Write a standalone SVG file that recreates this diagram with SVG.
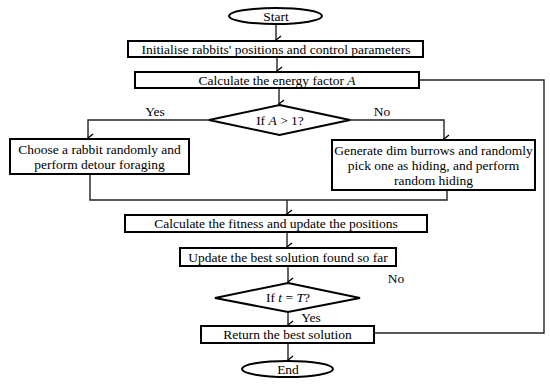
<svg xmlns="http://www.w3.org/2000/svg" width="550" height="384" viewBox="0 0 550 384">
<defs>
<style>
.n{fill:#fff;stroke:#000;stroke-width:2}
.c{fill:none;stroke:#222;stroke-width:1.4}
text{font-family:"Liberation Serif","Times New Roman",serif;font-size:13.5px;fill:#000;text-anchor:middle}
.i{font-style:italic}
</style>
<marker id="ah" viewBox="0 0 10 10" refX="5" refY="9" markerWidth="10" markerHeight="10" markerUnits="userSpaceOnUse" orient="auto-start-reverse">
<path d="M1,4 L5,9 L9,4" fill="none" stroke="#000" stroke-width="1.4"/>
</marker>
</defs>
<rect width="550" height="384" fill="#fff"/>
<g id="connectors">
<line class="c" x1="276" y1="24" x2="276" y2="40" marker-end="url(#ah)"/>
<line class="c" x1="277" y1="57" x2="277" y2="71" marker-end="url(#ah)"/>
<line class="c" x1="279" y1="88" x2="279" y2="104" marker-end="url(#ah)"/>
<polyline class="c" points="209,120 88,120 88,138" marker-end="url(#ah)"/>
<polyline class="c" points="350,120 444,120 444,139" marker-end="url(#ah)"/>
<polyline class="c" points="90,174 90,200 447,200 447,190"/>
<line class="c" x1="287" y1="200" x2="287" y2="214" marker-end="url(#ah)"/>
<line class="c" x1="287" y1="232" x2="287" y2="247" marker-end="url(#ah)"/>
<line class="c" x1="288" y1="266" x2="288" y2="282" marker-end="url(#ah)"/>
<line class="c" x1="288" y1="312" x2="288" y2="325" marker-end="url(#ah)"/>
<line class="c" x1="288" y1="343" x2="288" y2="360" marker-end="url(#ah)"/>
<polyline class="c" points="374,333 544,333 544,80 419,80"/>
<text x="155" y="116">Yes</text>
<text x="382" y="116">No</text>
<text x="396" y="283">No</text>
<text x="311" y="322">Yes</text>
</g>
<g id="start"><ellipse class="n" cx="275.5" cy="16" rx="46.5" ry="8"/><text x="276" y="20.5">Start</text></g>
<g id="init"><rect class="n" x="128" y="41" width="295" height="16"/><text x="276" y="53.5">Initialise rabbits' positions and control parameters</text></g>
<g id="energy"><rect class="n" x="135" y="72" width="284" height="16"/><text x="277" y="84.5">Calculate the energy factor <tspan class="i">A</tspan></text></g>
<g id="cond1"><polygon class="n" points="279.5,105 350,120 279.5,135 209,120"/><text x="280" y="124.5">If <tspan class="i">A</tspan> &gt; 1?</text></g>
<g id="detour"><rect class="n" x="10" y="139" width="179" height="35"/><text x="99.5" y="153.5">Choose a rabbit randomly and</text><text x="99.5" y="168.5">perform detour foraging</text></g>
<g id="hiding"><rect class="n" x="332" y="140" width="203" height="50"/><text x="433.5" y="154.5">Generate dim burrows and randomly</text><text x="433.5" y="169.5">pick one as hiding, and perform</text><text x="433.5" y="184.5">random hiding</text></g>
<g id="fitness"><rect class="n" x="125" y="215" width="302" height="17"/><text x="276" y="228">Calculate the fitness and update the positions</text></g>
<g id="update"><rect class="n" x="180" y="248" width="216" height="18"/><text x="288" y="261.5">Update the best solution found so far</text></g>
<g id="cond2"><polygon class="n" points="288,283 360,298 288,312 215,298"/><text x="288" y="302">If <tspan class="i">t</tspan> = <tspan class="i">T</tspan>?</text></g>
<g id="return"><rect class="n" x="201" y="326" width="173" height="17"/><text x="287.5" y="339">Return the best solution</text></g>
<g id="end"><ellipse class="n" cx="287.5" cy="369" rx="45.5" ry="8"/><text x="288" y="373.5">End</text></g>
</svg>
